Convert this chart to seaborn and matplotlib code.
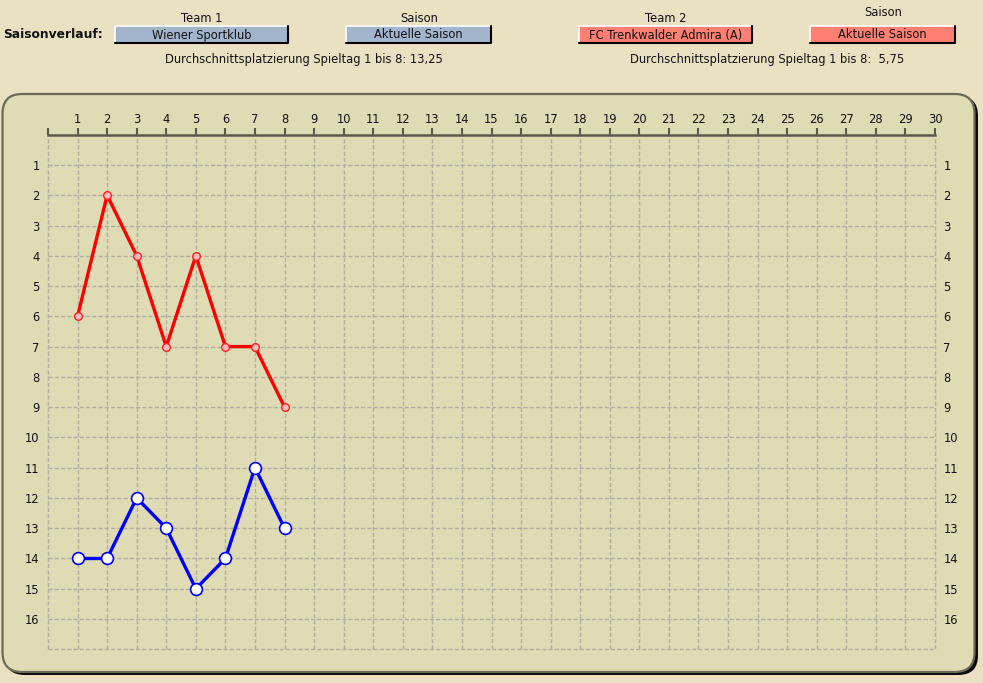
import matplotlib
matplotlib.use("Agg")
import matplotlib.pyplot as plt
import seaborn as sns
import numpy as np
import pandas as pd
from matplotlib.patches import FancyBboxPatch, Rectangle
from matplotlib.lines import Line2D

# ---- data ----
spieltage = [1, 2, 3, 4, 5, 6, 7, 8]
team1_name = "Wiener Sportklub"
team2_name = "FC Trenkwalder Admira (A)"
team1_platz = [14, 14, 12, 13, 15, 14, 11, 13]
team2_platz = [6, 2, 4, 7, 4, 7, 7, 9]
saison1 = "Aktuelle Saison"
saison2 = "Aktuelle Saison"
avg1_text = "Durchschnittsplatzierung Spieltag 1 bis 8: 13,25"
avg2_text = "Durchschnittsplatzierung Spieltag 1 bis 8:  5,75"
x_ticks = list(range(1, 31))
y_ticks = list(range(1, 17))

W, H = 983, 683
BG = "#EAE1C2"
PANEL = "#DFDBB5"

sns.set_theme(style="white")
plt.rcParams["font.family"] = ["DejaVu Sans"]

fig = plt.figure(figsize=(W / 100, H / 100), dpi=100)
fig.patch.set_facecolor(BG)

def fx(px):
    return px / W

def fy(py):
    return 1 - py / H

# panel with shadow
shadow = FancyBboxPatch((fx(5), fy(675)), fx(973), (675 - 96) / H,
                        boxstyle="round,pad=0,rounding_size=0.02",
                        transform=fig.transFigure, facecolor="#0A0A0A",
                        edgecolor="none", mutation_aspect=W / H, zorder=0)
fig.patches.append(shadow)
panel = FancyBboxPatch((fx(2.5), fy(672)), fx(972), (672 - 94) / H,
                       boxstyle="round,pad=0,rounding_size=0.02",
                       transform=fig.transFigure, facecolor=PANEL,
                       edgecolor="#6B6A58", linewidth=1.6,
                       mutation_aspect=W / H, zorder=0.5)
fig.patches.append(panel)

# header
txtc = "#111111"
FS = 8.3
fig.text(fx(3), fy(35), "Saisonverlauf:", fontsize=8.8, fontweight="bold",
         ha="left", va="center", color=txtc)

def box(x0, x1, y0, y1, color, label):
    fig.patches.append(Rectangle((fx(x0), fy(y1)), fx(x1 - x0), (y1 - y0) / H,
                                 transform=fig.transFigure, facecolor=color,
                                 edgecolor="none", zorder=1))
    fig.lines.append(Line2D([fx(x0), fx(x0), fx(x1)], [fy(y1), fy(y0), fy(y0)],
                            transform=fig.transFigure, color="white", lw=1.2, zorder=2))
    fig.lines.append(Line2D([fx(x0), fx(x1), fx(x1)], [fy(y1), fy(y1), fy(y0)],
                            transform=fig.transFigure, color="black", lw=1.5, zorder=2))
    fig.text(fx((x0 + x1) / 2), fy((y0 + y1) / 2 + 0.5), label, fontsize=FS,
             ha="center", va="center", color=txtc, zorder=3)

fig.text(fx(202), fy(18), "Team 1", fontsize=FS, ha="center", va="center", color=txtc)
fig.text(fx(419), fy(18), "Saison", fontsize=FS, ha="center", va="center", color=txtc)
fig.text(fx(666), fy(18), "Team 2", fontsize=FS, ha="center", va="center", color=txtc)
fig.text(fx(883), fy(13), "Saison", fontsize=FS, ha="center", va="center", color=txtc)
box(115, 288, 26, 43, "#A2B5CD", team1_name)
box(346, 491, 26, 43, "#A2B5CD", saison1)
box(579, 752, 26, 43, "#FF7F72", team2_name)
box(810, 955, 26, 43, "#FF7F72", saison2)
fig.text(fx(304), fy(60), avg1_text, fontsize=FS, ha="center", va="center", color=txtc)
fig.text(fx(767), fy(60), avg2_text, fontsize=FS, ha="center", va="center", color=txtc)

# axes
ax = fig.add_axes([fx(48), fy(649.3), fx(935 - 48), (649.3 - 134.7) / H])
ax.set_facecolor("none")
ax.set_zorder(2)

df1 = pd.DataFrame({"Spieltag": spieltage, "Platz": team1_platz})
df2 = pd.DataFrame({"Spieltag": spieltage, "Platz": team2_platz})

sns.lineplot(data=df2, x="Spieltag", y="Platz", ax=ax, color="#FF0000",
             linewidth=2.4, marker="o", markersize=5.5,
             markerfacecolor="#FFBCBC", markeredgecolor="#FF2020",
             markeredgewidth=1.0, zorder=5)
sns.lineplot(data=df1, x="Spieltag", y="Platz", ax=ax, color="#0000FF",
             linewidth=2.4, marker="o", markersize=8.5,
             markerfacecolor="white", markeredgecolor="#0000FF",
             markeredgewidth=1.2, zorder=5)

ax.set_xlim(0, 30)
ax.set_ylim(17, 0)
ax.set_xlabel("")
ax.set_ylabel("")

# grid
GC = "#B2B0A2"
for xv in range(0, 31):
    ax.axvline(xv, color=GC, lw=1.0, ls=(0, (3, 1.5)), zorder=1, clip_on=False)
for yv in range(1, 18):
    ax.axhline(yv, color=GC, lw=1.0, ls=(0, (3, 1.5)), zorder=1, clip_on=False)

for s in ["left", "right", "bottom"]:
    ax.spines[s].set_visible(False)
ax.spines["top"].set_color("#5C5B4C")
ax.spines["top"].set_linewidth(1.8)
ax.spines["top"].set_zorder(3)

ax.xaxis.tick_top()
ax.set_xticks(range(0, 31))
ax.set_xticklabels([""] + [str(v) for v in x_ticks])
ax.tick_params(axis="x", which="major", top=True, bottom=False, length=5,
               width=1.5, color="#5C5B4C", pad=1, labelsize=FS, labelcolor=txtc)

ax.set_yticks(y_ticks)
ax.set_yticklabels([str(v) for v in y_ticks])
ax.tick_params(axis="y", left=False, right=False, length=0, labelleft=True,
               labelright=True, pad=6, labelsize=FS, labelcolor=txtc)

fig.savefig("out.png", dpi=100, facecolor=BG)
